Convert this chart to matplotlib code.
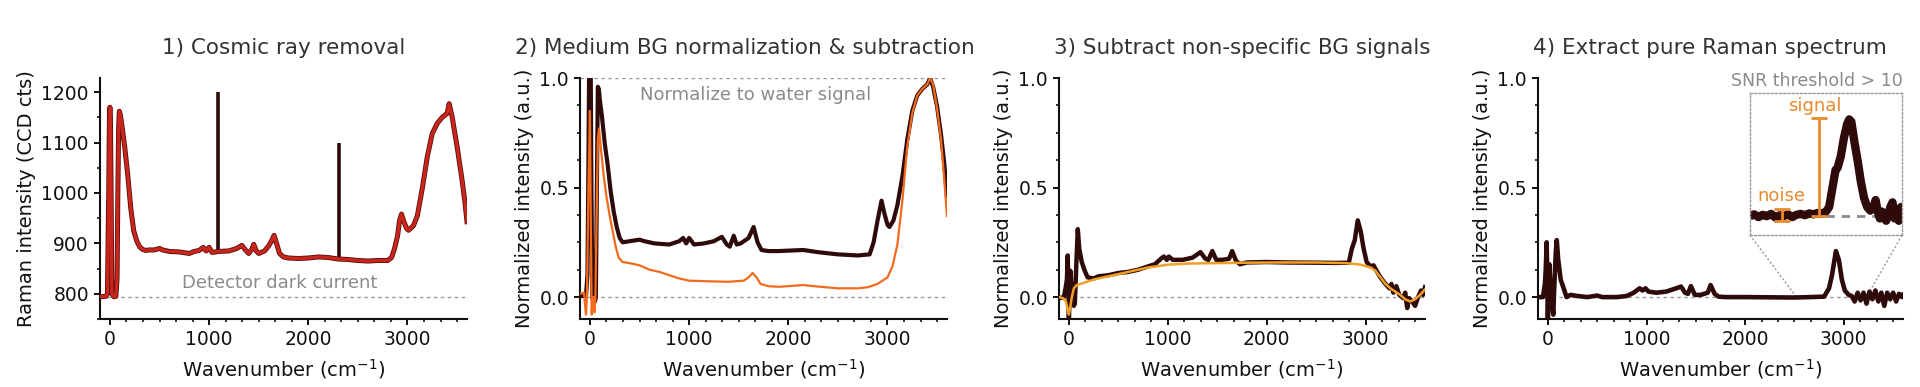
import matplotlib
matplotlib.use("Agg")
import matplotlib.pyplot as plt
import matplotlib.patheffects as pe
from matplotlib.ticker import MultipleLocator, AutoMinorLocator

# colours
DARK = "#2e0a0a"
RED = "#c8261c"
ORANGE = "#f26b1d"
YELLOW = "#f0a024"
ANNOT = "#e8892e"
GREY = "#8a8a8a"

# ---- panel 1: raw spectrum (CCD counts)
p1_x = [-100, -40, -25, -12, -5, 0, 5, 12, 20, 40, 60, 72, 80, 88, 95, 105, 120, 150,
        180, 210, 240, 270, 300, 330, 360, 400, 450, 500, 530, 600, 700, 800, 850, 900,
        940, 970, 1000, 1030, 1100, 1200, 1280, 1330, 1370, 1400, 1430, 1450, 1475, 1500,
        1560, 1600, 1630, 1655, 1680, 1710, 1750, 1800, 1900, 2000, 2100, 2200, 2300, 2400,
        2500, 2600, 2700, 2800, 2840, 2870, 2900, 2920, 2940, 2960, 2990, 3010, 3060, 3100,
        3150, 3200, 3250, 3300, 3350, 3400, 3420, 3450, 3500, 3550, 3580, 3600]
p1_y = [794, 795, 800, 1000, 1150, 1170, 1150, 1000, 800, 794, 795, 830, 1000, 1130, 1162,
        1155, 1135, 1090, 1035, 970, 925, 905, 893, 888, 886, 887, 887, 890, 887, 884, 883,
        880, 884, 886, 892, 885, 892, 882, 884, 885, 890, 896, 886, 880, 888, 898, 885, 880,
        885, 895, 905, 916, 900, 880, 873, 871, 870, 871, 873, 872, 869, 868, 866, 865, 866,
        866, 872, 890, 915, 945, 958, 945, 930, 926, 935, 955, 1010, 1072, 1118, 1138, 1150,
        1158, 1177, 1151, 1092, 1026, 980, 943]
cosmic_x = [1085, 2310]
cosmic_base = [884, 868]
cosmic_top = [1200, 1100]
dark_current = 793

# ---- panel 2: normalised cell spectrum and medium background
p2_x = [-100, -40, -25, -15, -8, 0, 8, 15, 25, 35, 50, 60, 70, 80, 90, 100, 120, 150, 180,
        210, 240, 270, 300, 330, 400, 500, 550, 650, 800, 900, 940, 970, 1000, 1050, 1150,
        1250, 1330, 1380, 1410, 1450, 1480, 1520, 1600, 1650, 1690, 1730, 1800, 1900, 2000,
        2150, 2300, 2500, 2700, 2820, 2860, 2900, 2940, 2970, 3000, 3020, 3060, 3100, 3150,
        3200, 3250, 3300, 3350, 3400, 3430, 3460, 3500, 3540, 3570, 3600]
p2_cell = [0.005, 0.005, 0.1, 0.6, 1.05, 1.1, 1.05, 0.5, 0.0, -0.03, -0.02, 0.0, 0.5, 0.96,
           0.95, 0.9, 0.83, 0.7, 0.6, 0.48, 0.39, 0.32, 0.27, 0.25, 0.255, 0.262, 0.255,
           0.245, 0.24, 0.255, 0.27, 0.245, 0.27, 0.24, 0.245, 0.255, 0.275, 0.24, 0.23,
           0.28, 0.24, 0.245, 0.27, 0.32, 0.25, 0.215, 0.21, 0.21, 0.212, 0.215, 0.205, 0.195,
           0.19, 0.195, 0.25, 0.35, 0.44, 0.38, 0.33, 0.32, 0.35, 0.42, 0.55, 0.72, 0.85,
           0.92, 0.95, 0.97, 1.0, 0.96, 0.87, 0.74, 0.62, 0.46]
p2_bg_x = [-100, -60, -40, -30, -15, 0, 10, 18, 25, 35, 45, 55, 65, 80, 92, 110, 140, 170,
           200, 230, 260, 290, 330, 400, 500, 600, 700, 800, 900, 1000, 1200, 1400, 1550,
           1600, 1640, 1680, 1720, 1800, 1900, 2000, 2150, 2300, 2500, 2700, 2800, 2900,
           2950, 3000, 3050, 3100, 3150, 3200, 3250, 3300, 3350, 3400, 3430, 3460, 3500,
           3540, 3570, 3600]
p2_bg = [0.015, 0.02, -0.08, 0.0, 0.5, 0.85, 0.3, -0.08, 0.0, 0.0, -0.07, 0.0, 0.3, 0.72,
         0.77, 0.68, 0.55, 0.45, 0.37, 0.3, 0.23, 0.18, 0.16, 0.155, 0.145, 0.125, 0.115,
         0.1, 0.085, 0.075, 0.072, 0.07, 0.075, 0.09, 0.11, 0.09, 0.06, 0.05, 0.047, 0.05,
         0.055, 0.048, 0.04, 0.04, 0.045, 0.06, 0.075, 0.09, 0.14, 0.24, 0.44, 0.69, 0.84,
         0.92, 0.95, 0.97, 1.0, 0.97, 0.86, 0.72, 0.55, 0.37]

# ---- panel 3: background-subtracted spectrum and non-specific fit
p3_x = [-100, -50, -30, -20, -12, -5, 0, 8, 15, 25, 35, 50, 60, 75, 90, 105, 130, 160, 190,
        250, 300, 400, 500, 600, 700, 800, 870, 930, 960, 990, 1010, 1050, 1150, 1250, 1330,
        1380, 1410, 1450, 1490, 1550, 1620, 1650, 1690, 1730, 1800, 2000, 2200, 2500, 2700,
        2830, 2860, 2890, 2920, 2950, 2980, 3010, 3050, 3080, 3110, 3150, 3200, 3240, 3260,
        3280, 3310, 3340, 3380, 3400, 3420, 3440, 3470, 3500, 3530, 3560, 3580, 3600]
p3_y = [-0.005, 0.0, 0.05, 0.08, 0.19, 0.05, -0.1, 0.02, 0.12, 0.05, 0.0, -0.04, -0.03, 0.15,
        0.31, 0.22, 0.16, 0.12, 0.09, 0.085, 0.095, 0.1, 0.11, 0.115, 0.125, 0.14, 0.15,
        0.175, 0.185, 0.17, 0.185, 0.17, 0.17, 0.18, 0.205, 0.175, 0.17, 0.21, 0.17, 0.17,
        0.175, 0.21, 0.165, 0.15, 0.158, 0.16, 0.158, 0.157, 0.156, 0.157, 0.22, 0.26, 0.35,
        0.3, 0.22, 0.16, 0.14, 0.145, 0.12, 0.09, 0.06, 0.04, 0.06, 0.02, 0.05, 0.01, -0.005,
        0.02, -0.05, -0.005, -0.02, -0.04, 0.0, 0.03, 0.01, 0.045]
p3_fit_x = [-100, -60, -30, -10, 0, 15, 30, 50, 80, 150, 250, 400, 600, 800, 1000, 1200,
            1500, 1800, 2100, 2500, 2800, 2950, 3050, 3100, 3150, 3200, 3250, 3300, 3350,
            3400, 3450, 3500, 3550, 3600]
p3_fit = [0.0, -0.005, -0.02, -0.06, -0.08, -0.04, 0.0, 0.04, 0.055, 0.065, 0.08, 0.095,
          0.115, 0.135, 0.148, 0.153, 0.155, 0.157, 0.158, 0.158, 0.155, 0.148, 0.135, 0.12,
          0.09, 0.06, 0.04, 0.025, 0.01, -0.01, -0.02, -0.01, 0.01, 0.035]

# ---- panel 4: pure Raman spectrum
p4_x = [-100, -50, -30, -22, -12, -5, 0, 8, 15, 25, 40, 55, 65, 80, 90, 105, 130, 160, 190,
        230, 300, 400, 500, 550, 700, 800, 870, 930, 960, 990, 1020, 1100, 1200, 1300, 1350,
        1390, 1420, 1450, 1490, 1550, 1620, 1650, 1690, 1730, 1800, 2000, 2500, 2800, 2850,
        2880, 2920, 2950, 2980, 3010, 3050, 3080, 3110, 3140, 3170, 3200, 3230, 3260, 3290,
        3320, 3350, 3380, 3410, 3440, 3470, 3500, 3530, 3560, 3590, 3600]
p4_y = [0.0, 0.0, 0.06, 0.12, 0.25, 0.05, -0.12, 0.05, 0.15, 0.05, -0.02, -0.08, 0.05, 0.2,
        0.26, 0.17, 0.08, 0.04, 0.0, 0.01, 0.005, 0.0, 0.007, 0.0, 0.0, 0.005, 0.02, 0.04,
        0.03, 0.04, 0.025, 0.02, 0.025, 0.04, 0.048, 0.02, 0.015, 0.05, 0.01, 0.01, 0.02,
        0.055, 0.015, 0.002, 0.0, 0.0, -0.002, 0.002, 0.04, 0.1, 0.21, 0.17, 0.08, 0.03,
        0.01, 0.005, -0.02, 0.02, -0.015, 0.02, -0.03, 0.025, -0.01, 0.03, -0.02, 0.02,
        -0.04, 0.02, -0.01, 0.02, -0.02, 0.015, 0.0, 0.01]

# zoomed CH-stretch region shown in the inset
zoom_x = [2450, 2470, 2490, 2510, 2530, 2550, 2570, 2590, 2610, 2630, 2650, 2670, 2690, 2710,
          2730, 2750, 2770, 2790, 2810, 2825, 2840, 2855, 2865, 2880, 2895, 2910, 2920, 2930,
          2945, 2960, 2975, 2990, 3005, 3020, 3035, 3045, 3055, 3065, 3075, 3085, 3095, 3105,
          3115, 3125, 3135, 3145, 3155, 3165, 3170]
zoom_y = [0.0, 0.004, -0.002, 0.003, 0.0, 0.005, -0.003, 0.002, 0.0, 0.004, -0.002, 0.003,
          0.005, 0.002, 0.006, 0.004, 0.007, 0.005, 0.01, 0.02, 0.06, 0.1, 0.105, 0.13, 0.17,
          0.2, 0.21, 0.205, 0.16, 0.12, 0.075, 0.04, 0.02, 0.012, 0.02, 0.035, 0.01, -0.005,
          0.01, 0.0, -0.01, 0.005, 0.02, 0.03, -0.005, 0.015, -0.01, 0.02, 0.0]
noise_x, noise_lo, noise_hi = 2600, -0.01, 0.015
signal_x, signal_lo, signal_hi = 2779, 0.0, 0.212

plt.rcParams["font.family"] = "DejaVu Sans"
plt.rcParams["mathtext.fontset"] = "dejavusans"

fig = plt.figure(figsize=(19.2, 3.87), dpi=100)
W, H = 1920, 387


def make_axes(left_px, right_px, top_px=78, bottom_px=319):
    return fig.add_axes([left_px / W, 1 - bottom_px / H,
                         (right_px - left_px) / W, (bottom_px - top_px) / H])


def style(ax, title, ylabel, title_x=0.5):
    for s in ["top", "right"]:
        ax.spines[s].set_visible(False)
    for s in ["left", "bottom"]:
        ax.spines[s].set_linewidth(1.5)
        ax.spines[s].set_color("#111111")
    ax.set_xlim(-100, 3600)
    ax.xaxis.set_major_locator(MultipleLocator(1000))
    ax.xaxis.set_minor_locator(AutoMinorLocator(6))
    ax.tick_params(which="major", length=4, width=1.4, labelsize=13.5, colors="#111111", pad=4)
    ax.tick_params(which="minor", length=2.5, width=1.2, colors="#111111")
    ax.set_title(title, fontsize=15.5, color="#333333", pad=17, x=title_x)
    ax.set_xlabel("Wavenumber (cm$^{-1}$)", fontsize=14, color="#111111", labelpad=6)
    ax.set_ylabel(ylabel, fontsize=14, color="#111111")


def hline(ax, y, **kw):
    ax.axhline(y, color="#999999", lw=1, ls=(0, (2.5, 2.5)), zorder=1, **kw)


# panel 1
ax1 = make_axes(100, 467)
style(ax1, "1) Cosmic ray removal", "Raman intensity (CCD cts)")
ax1.set_ylim(750, 1228)
ax1.yaxis.set_major_locator(MultipleLocator(100))
ax1.yaxis.set_minor_locator(MultipleLocator(50))
hline(ax1, dark_current)
ax1.vlines(cosmic_x, cosmic_base, cosmic_top, color=DARK, lw=2.6, zorder=2)
ax1.plot(p1_x, p1_y, color=RED, lw=2.4, zorder=3,
         path_effects=[pe.Stroke(linewidth=3.6, foreground="#5a0c0c"), pe.Normal()])
ax1.text(1715, 821, "Detector dark current", color=GREY, fontsize=13, ha="center", va="center")

# panels 2-4 share the normalised axis
def norm_axis(ax):
    ax.set_ylim(-0.1, 1.0)
    ax.yaxis.set_major_locator(MultipleLocator(0.5))
    ax.yaxis.set_minor_locator(AutoMinorLocator(4))
    ax.set_yticks([0, 0.5, 1.0], ["0.0", "0.5", "1.0"])
    ax.spines["left"].set_bounds(-0.1, 1.0)


ax2 = make_axes(580, 947)
style(ax2, "2) Medium BG normalization & subtraction", "Normalized intensity (a.u.)", title_x=0.45)
norm_axis(ax2)
hline(ax2, 0.0)
hline(ax2, 1.0)
ax2.plot(p2_x, p2_cell, color=DARK, lw=3.0, zorder=3)
ax2.plot(p2_bg_x, p2_bg, color=ORANGE, lw=1.6, zorder=4)
ax2.text(1672, 0.924, "Normalize to water signal", color=GREY, fontsize=13,
         ha="center", va="center")

ax3 = make_axes(1059, 1425)
style(ax3, "3) Subtract non-specific BG signals", "Normalized intensity (a.u.)")
norm_axis(ax3)
hline(ax3, 0.0)
ax3.plot(p3_x, p3_y, color=DARK, lw=3.2, zorder=3)
ax3.plot(p3_fit_x, p3_fit, color=YELLOW, lw=1.8, zorder=4)

ax4 = make_axes(1538, 1903)
style(ax4, "4) Extract pure Raman spectrum", "Normalized intensity (a.u.)", title_x=0.47)
norm_axis(ax4)
hline(ax4, 0.0)
ax4.plot(p4_x, p4_y, color=DARK, lw=3.3, zorder=3)

# inset box (in data coordinates of panel 4)
box = [2049, 0.283, 3590 - 2049, 0.931 - 0.283]
ins = ax4.inset_axes(box, transform=ax4.transData)
ins.set_xlim(2450, 3170)
ins.set_ylim(-0.041, 0.267)
ins.set_xticks([])
ins.set_yticks([])
ins.patch.set_alpha(0)
for s in ins.spines.values():
    s.set_linestyle((0, (1.5, 1.5)))
    s.set_color("#999999")
    s.set_linewidth(1)
ins.plot([2810, 3048], [0, 0], color="#8a8a8a", lw=2, ls=(0, (3, 2.5)), zorder=1)
ins.plot(zoom_x, zoom_y, color=DARK, lw=6, zorder=2, solid_capstyle="butt")
for xx, lo, hi in [(noise_x, noise_lo, noise_hi), (signal_x, signal_lo, signal_hi)]:
    ins.errorbar(xx, (lo + hi) / 2, yerr=(hi - lo) / 2, color=ANNOT, lw=2,
                 capsize=5.5, capthick=2, zorder=3)
ins.text(noise_x, 0.043, "noise", color=ANNOT, fontsize=13, ha="center", va="center")
ins.text(2759, 0.238, "signal", color=ANNOT, fontsize=13, ha="center", va="center")

# connector lines from the box down to the zoomed region
ax4.plot([2049, 2520], [0.283, 0.0], color="#999999", lw=1, ls=(0, (1.5, 1.5)), zorder=1)
ax4.plot([3590, 3230], [0.283, 0.0], color="#999999", lw=1, ls=(0, (1.5, 1.5)), zorder=1)
ax4.text(3600, 0.988, "SNR threshold > 10", color=GREY, fontsize=12.5, ha="right", va="center")

fig.savefig("out.png", dpi=100)
